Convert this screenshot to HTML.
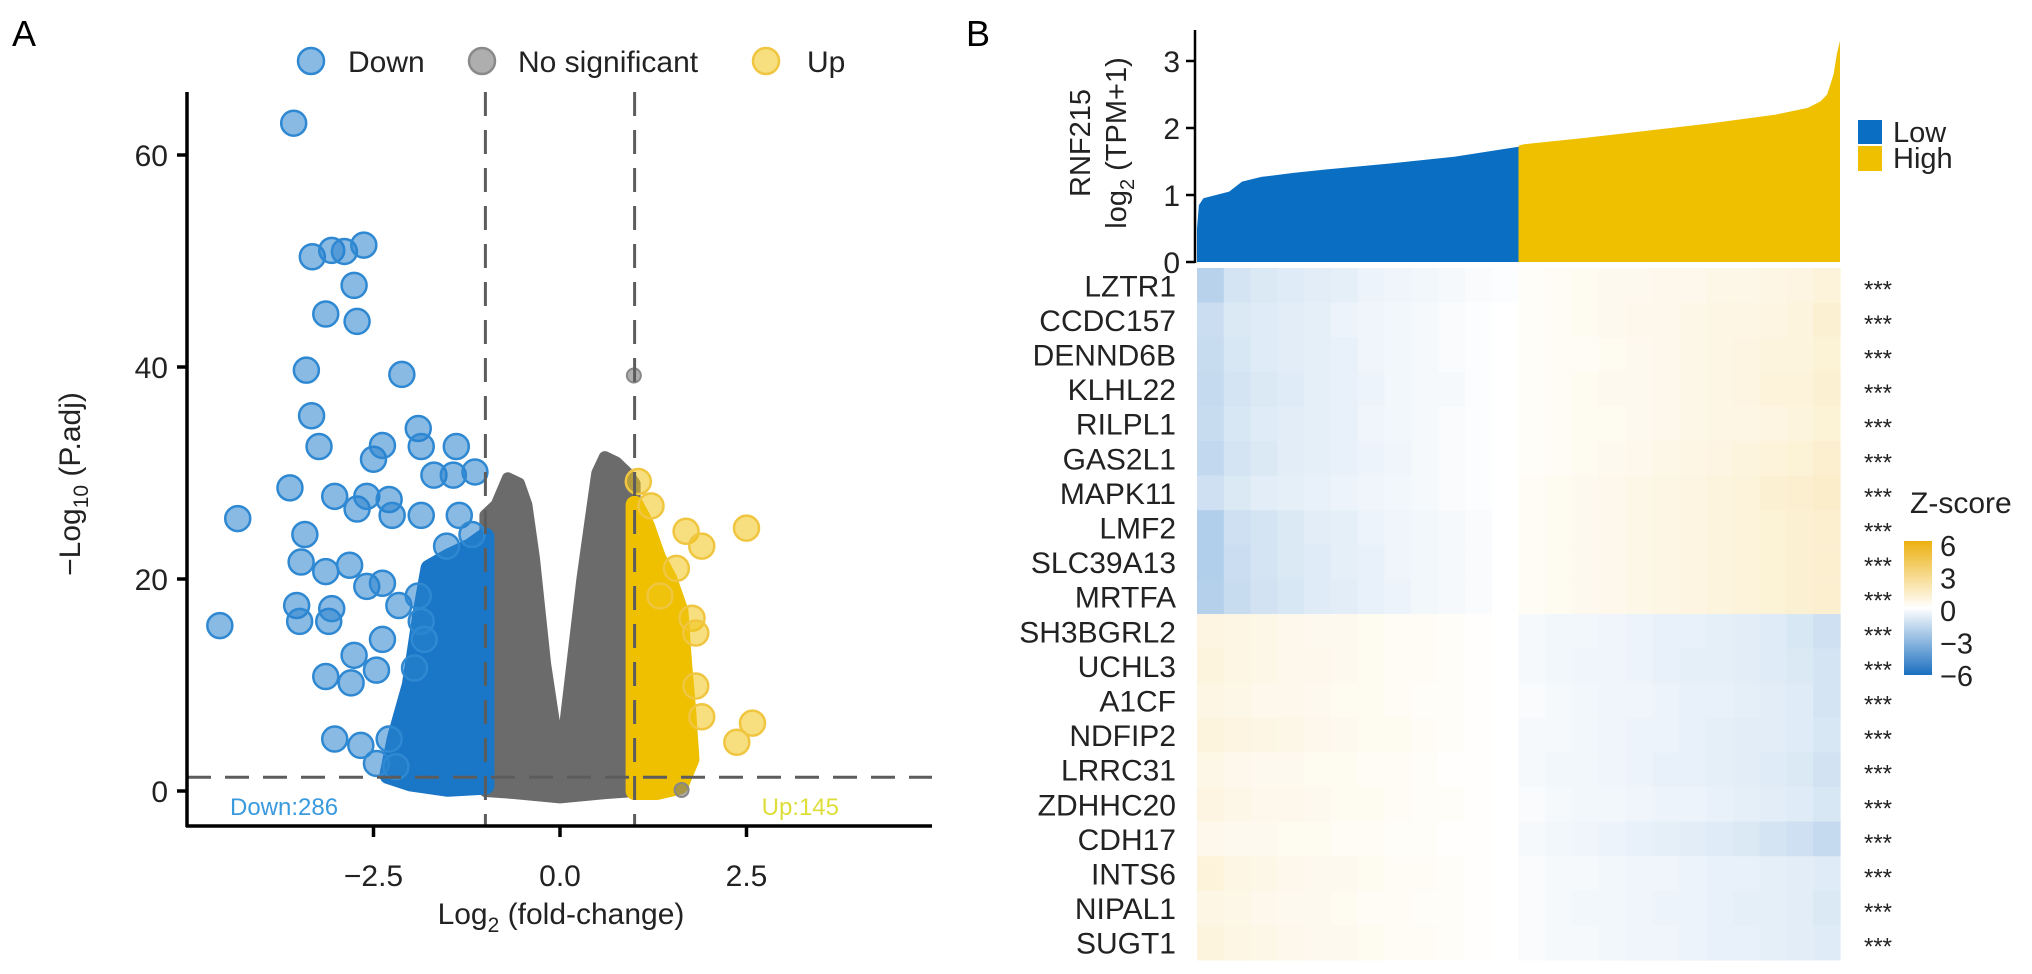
<!DOCTYPE html>
<html><head><meta charset="utf-8"><style>
body{margin:0;background:#fff}
svg{display:block;font-family:"Liberation Sans",Arial,sans-serif}
</style></head><body>
<svg id="fig" width="2032" height="974" viewBox="0 0 2032 974" xmlns="http://www.w3.org/2000/svg">
<text x="12" y="46" font-size="36">A</text>
<text x="966" y="46" font-size="36">B</text>
<g id="volcano"></g>
<g id="heat"></g>
</svg>
<script>
// ---------- Volcano data ----------
const downX=[-3.57,-3.32,-3.06,-2.89,-2.63,-2.76,-3.14,-2.72,-3.40,-2.12,-3.33,-3.23,-3.62,-4.32,-4.56,-3.42,-3.47,-3.53,-3.49,-3.10,-3.14,-2.82,-3.06,-2.59,-2.38,-3.02,-2.72,-2.59,-2.29,-2.50,-2.38,-1.90,-1.86,-1.39,-1.69,-1.43,-1.14,-2.25,-1.86,-1.35,-1.18,-2.76,-3.14,-2.80,-2.46,-2.38,-2.16,-1.90,-1.95,-3.02,-2.67,-2.46,-2.29,-2.20,-1.86,-1.82,-1.52];
const downY=[63.0,50.4,51.0,50.9,51.5,47.7,45.0,44.3,39.7,39.3,35.4,32.5,28.6,25.7,15.6,24.2,21.6,17.5,16.0,16.0,20.7,21.3,17.2,19.3,19.6,27.8,26.6,27.8,27.5,31.3,32.6,34.2,32.5,32.5,29.8,29.8,30.1,26.0,26.0,26.0,24.2,12.8,10.8,10.2,11.4,14.3,17.5,18.4,11.6,4.9,4.3,2.6,4.9,2.3,16.0,14.3,23.1];
const upX=[1.05,1.22,1.69,1.90,2.50,1.56,1.77,1.82,1.82,1.90,2.37,2.58,1.34];
const upY=[29.2,26.9,24.5,23.1,24.8,21.0,16.3,14.9,9.9,7.0,4.6,6.4,18.4];
const nsX=[0.99,1.63];
const nsY=[39.2,0.1];
// dense-cloud envelopes (data units)
const downCloudX=[-1,-1,-1.2,-1.5,-1.75,-1.85,-2.0,-2.2,-2.3,-2.0,-1.5];
const downCloudY=[0.5,24,23,22,21,17,10,5,1.5,0.8,0.3];
const upCloudX=[1,1,1.15,1.3,1.45,1.6,1.65,1.7,1.75,1.6,1.3];
const upCloudY=[0,27,25,22,20,17,12,8,3,0.5,0];
const nsCloudX=[-1,-1,-0.85,-0.7,-0.55,-0.45,-0.35,-0.2,-0.05,0,0.05,0.2,0.3,0.4,0.5,0.6,0.75,0.9,1,1,0.6,0,-0.6];
const nsCloudY=[0,26,27,29.5,29,27,22,12,5,4,5,14,20,25,30,31.5,31,30,29,0,-0.2,-0.6,-0.2];
const xTicks=[-2.5,0,2.5];
const xTickLabels=["\u22122.5","0.0","2.5"];
const yTicks=[0,20,40,60];
const yTickLabels=["0","20","40","60"];

// ---------- Heatmap data ----------
const genes=["LZTR1","CCDC157","DENND6B","KLHL22","RILPL1","GAS2L1","MAPK11","LMF2","SLC39A13","MRTFA","SH3BGRL2","UCHL3","A1CF","NDFIP2","LRRC31","ZDHHC20","CDH17","INTS6","NIPAL1","SUGT1"];
const rankFrac=[0,0.003,0.01,0.05,0.07,0.1,0.15,0.2,0.3,0.4,0.5,0.501,0.51,0.6,0.7,0.8,0.9,0.95,0.97,0.98,0.99,0.995,1];
const expr=[0.5,0.85,0.95,1.05,1.2,1.27,1.33,1.38,1.47,1.57,1.72,1.74,1.76,1.85,1.96,2.07,2.2,2.3,2.4,2.5,2.8,3.1,3.3];
const zRows=[
[-2.2,-1.3,-1.1,-1,-0.9,-0.8,-0.6,-0.5,-0.4,-0.3,-0.2,-0.1,0.2,0.3,0.4,0.5,0.5,0.6,0.6,0.7,0.7,0.8,0.9,1.1],
[-1.6,-1.1,-1,-0.9,-0.8,-0.6,-0.5,-0.4,-0.3,-0.2,-0.1,0,0.2,0.3,0.4,0.5,0.6,0.6,0.7,0.8,0.8,0.9,1,1.3],
[-1.7,-1.2,-1,-0.9,-0.8,-0.7,-0.5,-0.4,-0.3,-0.2,-0.1,0,0.2,0.3,0.3,0.4,0.5,0.6,0.7,0.8,0.9,1,1,1.2],
[-1.8,-1.3,-1.1,-1,-0.8,-0.7,-0.6,-0.4,-0.3,-0.3,-0.1,0,0.2,0.3,0.4,0.5,0.5,0.6,0.7,0.8,0.9,1.1,1.1,1.3],
[-1.7,-1.2,-1,-0.9,-0.8,-0.7,-0.5,-0.4,-0.3,-0.2,-0.1,0,0.2,0.3,0.4,0.4,0.5,0.6,0.7,0.8,0.8,0.9,1,1.2],
[-1.9,-1.3,-1.1,-0.9,-0.8,-0.7,-0.6,-0.5,-0.3,-0.2,-0.1,0,0.2,0.3,0.4,0.5,0.6,0.7,0.8,0.9,1,1.1,1.2,1.4],
[-1.5,-1.1,-0.9,-0.8,-0.7,-0.6,-0.5,-0.4,-0.3,-0.2,-0.1,0,0.3,0.4,0.5,0.6,0.7,0.8,0.9,1,1.1,1.3,1.4,1.6],
[-2.4,-1.5,-1.3,-1.1,-0.9,-0.8,-0.6,-0.5,-0.4,-0.3,-0.2,0,0.3,0.4,0.5,0.6,0.7,0.8,0.9,1,1.1,1.2,1.3,1.4],
[-2.4,-1.6,-1.3,-1.1,-1,-0.8,-0.7,-0.5,-0.4,-0.3,-0.2,0,0.3,0.4,0.5,0.6,0.7,0.8,0.9,1,1.1,1.2,1.3,1.4],
[-2.3,-1.7,-1.4,-1.2,-1,-0.9,-0.7,-0.6,-0.4,-0.3,-0.2,0,0.3,0.4,0.5,0.6,0.7,0.8,0.9,1,1.1,1.2,1.3,1.4],
[0.9,0.8,0.7,0.6,0.5,0.5,0.4,0.3,0.3,0.2,0.1,0,-0.3,-0.4,-0.4,-0.5,-0.6,-0.7,-0.7,-0.8,-0.9,-1,-1.2,-1.5],
[1,0.8,0.7,0.6,0.6,0.5,0.4,0.3,0.3,0.2,0.1,0,-0.3,-0.4,-0.5,-0.5,-0.6,-0.7,-0.8,-0.8,-0.9,-1,-1.1,-1.3],
[0.8,0.7,0.6,0.6,0.5,0.4,0.4,0.3,0.2,0.2,0.1,0,-0.2,-0.3,-0.4,-0.5,-0.5,-0.6,-0.7,-0.7,-0.8,-0.9,-1,-1.3],
[1,0.9,0.8,0.7,0.6,0.5,0.4,0.4,0.3,0.2,0.1,0,-0.3,-0.3,-0.4,-0.5,-0.6,-0.6,-0.7,-0.8,-0.9,-0.9,-1,-1.2],
[0.7,0.6,0.5,0.5,0.4,0.4,0.3,0.3,0.2,0.1,0.1,0,-0.3,-0.4,-0.4,-0.5,-0.6,-0.7,-0.7,-0.8,-0.9,-1,-1.1,-1.4],
[0.9,0.7,0.6,0.6,0.5,0.4,0.4,0.3,0.2,0.2,0.1,0,-0.2,-0.3,-0.4,-0.4,-0.5,-0.6,-0.6,-0.7,-0.8,-0.9,-1,-1.2],
[0.6,0.5,0.5,0.4,0.4,0.3,0.3,0.2,0.2,0.1,0.1,0,-0.3,-0.4,-0.5,-0.6,-0.7,-0.8,-0.9,-1,-1.1,-1.3,-1.5,-1.8],
[1.1,0.8,0.7,0.6,0.5,0.5,0.4,0.3,0.3,0.2,0.1,0,-0.2,-0.3,-0.3,-0.4,-0.5,-0.5,-0.6,-0.7,-0.7,-0.8,-0.9,-1],
[0.8,0.7,0.6,0.5,0.5,0.4,0.3,0.3,0.2,0.2,0.1,0,-0.2,-0.3,-0.4,-0.4,-0.5,-0.6,-0.6,-0.7,-0.8,-0.8,-0.9,-1.1],
[1,0.8,0.7,0.6,0.5,0.5,0.4,0.3,0.3,0.2,0.1,0,-0.2,-0.3,-0.3,-0.4,-0.5,-0.5,-0.6,-0.7,-0.7,-0.8,-0.9,-1]
];
const zTicks=[6,3,0,-3,-6];
const zTickLabels=["6","3","0","\u22123","\u22126"];
const barTicks=[0,1,2,3];

const NS="http://www.w3.org/2000/svg";
function mk(tag,attrs,parent,text){const e=document.createElementNS(NS,tag);for(const k in attrs)e.setAttribute(k,attrs[k]);if(text!==undefined)e.textContent=text;parent.appendChild(e);return e;}

// ---------- Volcano ----------
const V=document.getElementById('volcano');
const vx=x=>560+x*74.6, vy=y=>791-y*10.6;
const poly=(xs,ys)=>xs.map((x,i)=>vx(x).toFixed(1)+','+vy(ys[i]).toFixed(1)).join(' ');
let e;
e=mk('polygon',{points:poly(nsCloudX,nsCloudY),fill:'#6b6b6b',stroke:'#6b6b6b','stroke-width':12,'stroke-linejoin':'round'},V);

e=mk('polygon',{points:poly(downCloudX,downCloudY),fill:'#1a76c6',stroke:'#1a76c6','stroke-width':18,'stroke-linejoin':'round'},V);

e=mk('polygon',{points:poly(upCloudX,upCloudY),fill:'#eec000',stroke:'#eec000','stroke-width':18,'stroke-linejoin':'round'},V);

downX.forEach((x,i)=>{const c=mk('circle',{cx:vx(x),cy:vy(downY[i]),r:12.5,fill:'rgba(40,130,205,0.55)',stroke:'#2f88d2','stroke-width':2.5},V);
});
upX.forEach((x,i)=>{const c=mk('circle',{cx:vx(x),cy:vy(upY[i]),r:12.5,fill:'rgba(240,195,20,0.55)',stroke:'#f0c640','stroke-width':2.5},V);
});
nsX.forEach((x,i)=>{const c=mk('circle',{cx:vx(x),cy:vy(nsY[i]),r:7,fill:'rgba(120,120,120,0.6)',stroke:'#888','stroke-width':2},V);
});
[-1,1].forEach(t=>{const l=mk('line',{x1:vx(t),x2:vx(t),y1:92,y2:826,stroke:'#5c5c5c','stroke-width':3,'stroke-dasharray':'24,14'},V);
});
e=mk('line',{x1:187,x2:932,y1:vy(1.3),y2:vy(1.3),stroke:'#5c5c5c','stroke-width':3,'stroke-dasharray':'24,14'},V);

e=mk('line',{x1:187,x2:187,y1:92,y2:827,stroke:'#000','stroke-width':3.5},V);

e=mk('line',{x1:186,x2:932,y1:826,y2:826,stroke:'#000','stroke-width':3.5},V);

yTicks.forEach((t,i)=>{mk('line',{x1:177,x2:187,y1:vy(t),y2:vy(t),stroke:'#000','stroke-width':3.5},V);
const tx=mk('text',{x:168,y:vy(t)+11,'font-size':30,'text-anchor':'end',fill:'#222'},V,yTickLabels[i]);
});
xTicks.forEach((t,i)=>{mk('line',{x1:vx(t),x2:vx(t),y1:826,y2:837,stroke:'#000','stroke-width':3.5},V);
const tx=mk('text',{x:vx(t),y:886,'font-size':30,'text-anchor':'middle',fill:'#222'},V,xTickLabels[i]);
});
e=mk('text',{x:561,y:924,'font-size':30,'text-anchor':'middle',fill:'#222'},V);
e.innerHTML='Log<tspan font-size="21" dy="8">2</tspan><tspan dy="-8"> (fold-change)</tspan>';

e=mk('text',{transform:'translate(80,484) rotate(-90)','font-size':30,'text-anchor':'middle',fill:'#222'},V);
e.innerHTML='\u2212Log<tspan font-size="21" dy="8">10</tspan><tspan dy="-8"> (P.adj)</tspan>';

e=mk('text',{x:230,y:815,'font-size':24,fill:'#3a9ade'},V,'Down:286');

e=mk('text',{x:839,y:815,'font-size':24,'text-anchor':'end',fill:'#dede3a'},V,'Up:145');

[[311,348,'Down','rgba(40,130,205,0.55)','#2f88d2'],[482,518,'No significant','rgba(120,120,120,0.6)','#8a8a8a'],[766,807,'Up','rgba(240,195,20,0.55)','#f0c640']].forEach(d=>{
const c=mk('circle',{cx:d[0],cy:61,r:13,fill:d[3],stroke:d[4],'stroke-width':2.5},V);

const t=mk('text',{x:d[1],y:72,'font-size':30,fill:'#222'},V,d[2]);
});

// ---------- Panel B ----------
const H=document.getElementById('heat');
const hx0=1197,hx1=1840;
const by=v=>262-v*67;
const rx=f=>hx0+f*(hx1-hx0);
function area(lo,hi,col,name){let xs=[],ys=[];
rankFrac.forEach((f,i)=>{if(f>=lo&&f<=hi){xs.push(rx(f));ys.push(by(expr[i]));}});
let p=`${xs[0]},${by(0)} `+xs.map((x,i)=>x.toFixed(1)+','+ys[i].toFixed(1)).join(' ')+` ${xs[xs.length-1]},${by(0)}`;
const a=mk('polygon',{points:p,fill:col},H);}
area(0,0.5,'#0a6fc2','low-expression-area');
area(0.5,1,'#efc000','high-expression-area');
e=mk('line',{x1:1195,x2:1195,y1:30,y2:263,stroke:'#000','stroke-width':2.5},H);

barTicks.forEach(t=>{mk('line',{x1:1186,x2:1195,y1:by(t),y2:by(t),stroke:'#000','stroke-width':2.5},H);
const tx=mk('text',{x:1180,y:by(t)+11,'font-size':30,'text-anchor':'end',fill:'#222'},H,String(t));
});
e=mk('text',{transform:'translate(1090,143) rotate(-90)','font-size':29,'text-anchor':'middle',fill:'#222'},H,'RNF215');

e=mk('text',{transform:'translate(1126,143) rotate(-90)','font-size':29,'text-anchor':'middle',fill:'#222'},H);
e.innerHTML='log<tspan font-size="20" dy="8">2</tspan><tspan dy="-8"> (TPM+1)</tspan>';

e=mk('rect',{x:1858,y:120,width:24,height:24,fill:'#0a6fc2'},H);
e=mk('rect',{x:1858,y:146,width:24,height:25,fill:'#efc000'},H);
e=mk('text',{x:1893,y:142,'font-size':29,fill:'#222'},H,'Low');
e=mk('text',{x:1893,y:168,'font-size':29,fill:'#222'},H,'High');
function zcol(z){z=Math.max(-6,Math.min(6,z));let a=[255,255,255],b,t;
if(z>=0){b=[236,176,16];t=z/6;}else{b=[26,111,192];t=-z/6;}
return 'rgb('+a.map((v,i)=>Math.round(v+(b[i]-v)*t)).join(',')+')';}
const top0=268,rowH=34.6;
const nb=zRows[0].length;
zRows.forEach((row,r)=>{
row.forEach((z,c)=>{const x0=rx(c/nb),x1=rx((c+1)/nb);
const cell=mk('rect',{x:x0.toFixed(1),y:(top0+r*rowH).toFixed(1),width:(x1-x0+0.6).toFixed(1),height:rowH+0.5,fill:zcol(z*0.85)},H);
});
const lb=mk('text',{x:1176,y:top0+r*rowH+rowH/2+11,'font-size':30,'text-anchor':'end',fill:'#222'},H,genes[r]);

const st=mk('text',{x:1864,y:top0+r*rowH+rowH/2+12,'font-size':24,fill:'#222'},H,'***');

});
e=mk('text',{x:1910,y:513,'font-size':30,fill:'#222'},H,'Z-score');
const cb=mk('defs',{},H);
const lg=mk('linearGradient',{id:'zg',x1:0,y1:0,x2:0,y2:1},cb);
[6,3,0,-3,-6].forEach((z,i)=>mk('stop',{offset:i/4,'stop-color':zcol(z)},lg));
e=mk('rect',{x:1904,y:541,width:28,height:134,fill:'url(#zg)'},H);
zTicks.forEach((z,i)=>{const y=545+i*32.5;
const t=mk('text',{x:1940,y:y+11,'font-size':29,fill:'#222'},H,zTickLabels[i]);
});
</script>
</body></html>
